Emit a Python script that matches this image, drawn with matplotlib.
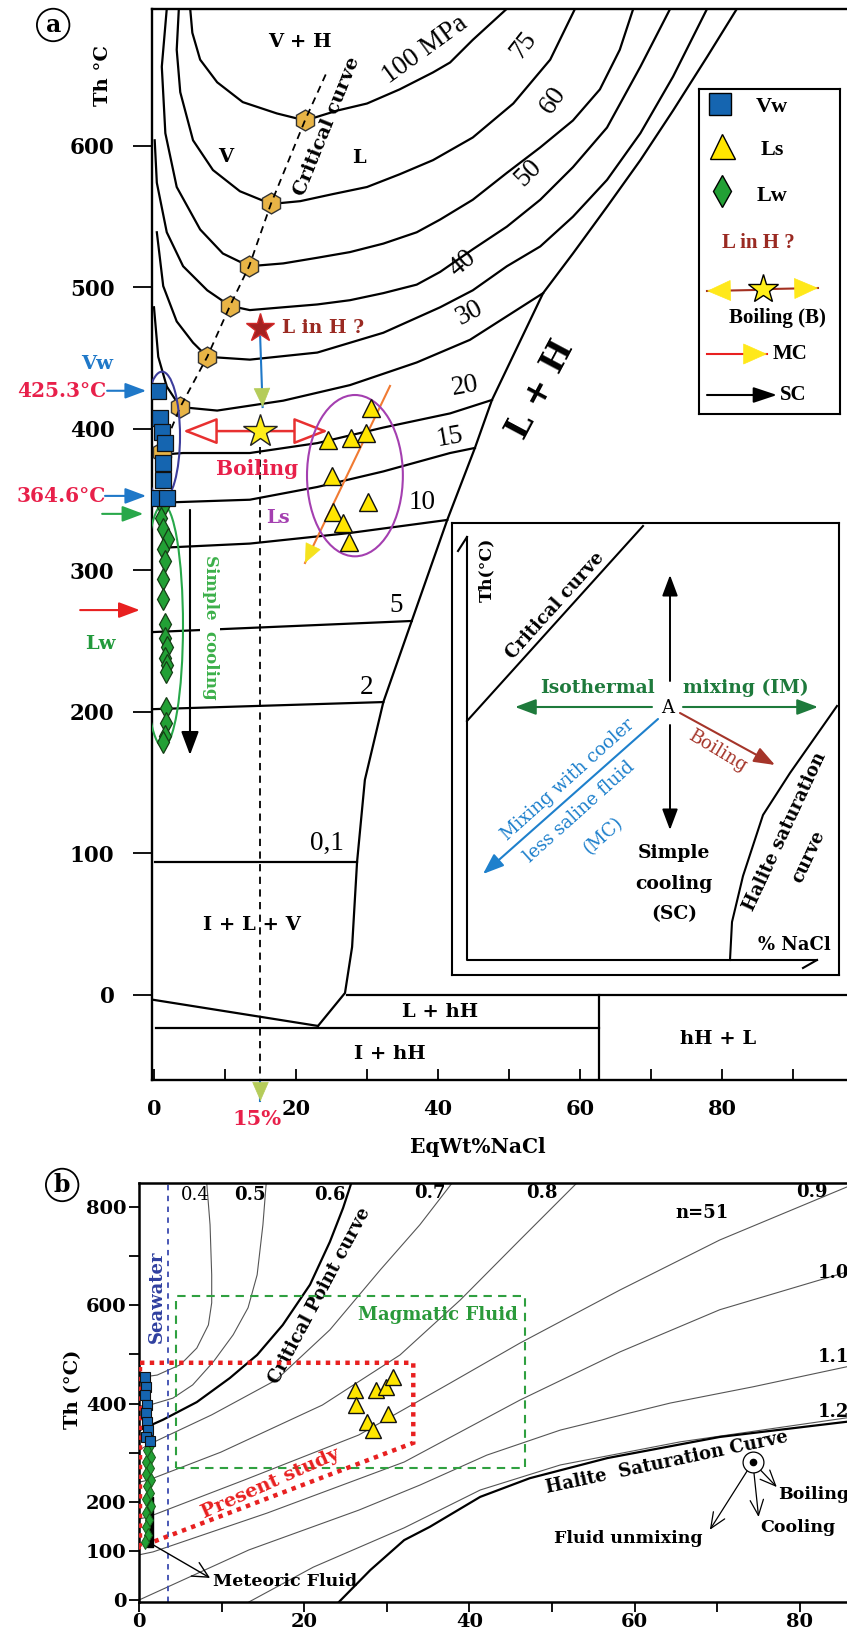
import numpy as np
import matplotlib.pyplot as plt
from matplotlib.patches import Ellipse, Polygon, Rectangle

plt.rcParams['font.family'] = 'DejaVu Serif'
TIMES = 'Liberation Serif'

RED = '#e8204a'
BLUE = '#1f78c8'
VW_C = '#1565b0'
LS_C = '#ffe600'
LW_C = '#22a035'
HEX_C = '#e8b446'

# ---------------- panel (a): isobars, x = wt% NaCl, y = Th (degC)
p100_x = [5.1, 5.4, 6.5, 8.9, 12.5, 17.3, 21.3, 25.8, 30.0, 34.6, 39.3, 41.7, 44.9, 49.7]
p100_t = [697, 680, 661, 645, 631, 623, 618, 625, 630, 640, 652, 659, 675, 697]
p75_x = [3.5, 3.2, 3.7, 5.5, 8.3, 12.1, 16.5, 20.6, 25.2, 30.0, 34.6, 39.3, 44.9, 50.6, 55.8, 59.3]
p75_t = [697, 668, 638, 604, 583, 568, 559, 561, 566, 571, 580, 590, 606, 630, 661, 697]
p60_x = [1.8, 1.1, 1.6, 3.2, 6.5, 9.7, 13.4, 18.2, 23.0, 27.6, 32.3, 37.0, 40.3, 44.9, 49.7,
         54.4, 59.0, 62.8, 65.6, 67.5]
p60_t = [697, 656, 609, 571, 541, 524, 515, 517, 521, 525, 531, 539, 548, 562, 581, 599, 618,
         640, 668, 697]
p50_x = [0.1, 0.4, 1.8, 4.1, 7.5, 10.7, 13.5, 18.2, 23.0, 27.6, 32.3, 37.0, 40.3, 44.9, 49.7,
         54.4, 59.0, 63.8, 68.5, 72.7]
p50_t = [604, 574, 539, 515, 498, 487, 484, 486, 488, 491, 496, 502, 511, 527, 543, 562, 585,
         613, 656, 697]
p40_x = [0.4, 1.3, 3.2, 5.5, 7.5, 13.5, 23.0, 32.3, 40.3, 44.9, 49.7, 54.4, 59.0, 63.8, 68.5,
         73.1, 77.9]
p40_t = [539, 501, 476, 461, 451, 449, 454, 468, 486, 498, 515, 529, 550, 576, 609, 649, 697]
p30_x = [0.0, 0.6, 1.8, 3.7, 8.9, 18.2, 27.6, 37.0, 44.5, 54.8]
p30_t = [486, 451, 430, 415.5, 413, 420, 431, 447, 463, 496]
p20_x = [1.5, 4.1, 13.5, 23.0, 32.3, 41.7, 47.6]
p20_t = [382, 383, 383, 390, 401, 411, 420.5]
p15_x = [1.5, 13.5, 23.0, 32.3, 41.7, 45.2]
p15_t = [348, 350, 359, 370, 383, 386.6]
p10_x = [0.9, 13.5, 27.6, 41.3]
p10_t = [316, 319, 326.5, 335.7]
p5_x = [0.0, 36.3]
p5_t = [256.5, 264.3]
p2_x = [0.0, 32.3]
p2_t = [202, 207]
p01_x = [0.1, 28.6]
p01_t = [94, 94]

# halite liquidus (L + H) and low temperature boundaries
lh_x = [23.1, 26.9, 27.9, 28.6, 29.7, 32.3, 36.3, 41.3, 45.2, 47.6, 54.8, 59.0, 63.8, 68.5,
        73.1, 77.9, 82.1]
lh_t = [-21.9, 1.4, 33.9, 94, 152, 207, 264.3, 335.7, 386.6, 420.5, 496, 524, 557, 590, 625,
        663, 697]
ice_x = [0.0, 23.1]
ice_t = [-3.5, -21.9]
eut_x = [0.3, 62.7]
eut_t = [-23.3, -23.3]
zero_x = [27.2, 97.6]
zero_t = [0, 0]
hh_x = [62.7, 62.7]
hh_t = [0, -61]

# critical points of the isobars
crit_x = [1.1, 3.7, 7.5, 10.7, 13.4, 16.5, 21.3]
crit_t = [384, 415.5, 451, 487, 515, 559.5, 618.5]
critline_x = [1.1, 3.7, 7.5, 10.7, 13.4, 16.5, 21.3, 24.5]
critline_t = [384, 415.5, 451, 487, 515, 559.5, 618.5, 654]

# fluid inclusions (a)
vw_a_x = [0.6, 0.85, 1.1, 1.55, 1.3, 1.3, 0.4, 1.8]
vw_a_t = [427, 408, 398, 390, 376, 364, 351, 351]
lw_a_x = [1.3, 1.0, 1.3, 2.0, 1.3, 1.6, 1.3, 1.3, 1.6, 1.6, 1.8, 1.6, 1.8, 1.7, 1.7, 1.7, 1.6, 1.3]
lw_a_t = [345, 337, 329, 322, 315, 307, 294, 280, 262, 252, 246, 238, 233, 228, 203, 192, 183, 179]
ls_a_x = [30.6, 24.5, 27.8, 29.9, 25.0, 30.2, 25.2, 26.6, 27.5]
ls_a_t = [414.6, 392.2, 393.4, 397.0, 367.1, 348.6, 341.6, 333.3, 320.4]
boil_x, boil_t = 14.9, 398.5
linh_x, linh_t = 14.9, 471.4

# ---------------- panel (b): isochores (g/cm3)
d04_x = [8.2, 8.6, 8.8, 8.8, 8.4, 7.0, 5.0, 2.2, 0.5, 0.0]
d04_t = [849, 764, 662, 605, 560, 513, 479, 458, 454, 453]
d05_x = [15.4, 15.0, 14.3, 13.2, 11.4, 9.0, 6.5, 4.1, 1.3, 0.0]
d05_t = [849, 764, 662, 595, 540, 485, 438, 411, 397, 395]
crb_x = [25.7, 24.7, 23.1, 20.7, 17.4, 14.3, 11.0, 7.0, 2.9, 0.1]
crb_t = [849, 798, 729, 642, 560, 499, 452, 403, 367, 346]
d07_x = [0.0, 1.1, 8.8, 16.6, 23.1, 29.2, 34.0, 37.9]
d07_t = [305, 316, 377, 448, 550, 672, 764, 849]
d08_x = [0.0, 1.1, 9.9, 22.2, 31.6, 38.9, 46.1, 53.0]
d08_t = [240, 244, 301, 397, 499, 611, 733, 849]
d09_x = [0.0, 1.1, 12.7, 26.6, 37.7, 46.1, 58.2, 70.3, 85.7]
d09_t = [165, 169, 244, 336, 442, 523, 631, 733, 841]
d10_x = [0.0, 1.7, 15.5, 32.1, 46.1, 58.2, 70.3, 85.7]
d10_t = [92, 98, 177, 281, 407, 505, 591, 668]
d11_x = [0.0, 13.3, 26.6, 34.0, 42.1, 51.0, 64.3, 74.3, 85.7]
d11_t = [0, 102, 183, 234, 295, 346, 401, 434, 475]
d12_x = [13.3, 21.1, 32.1, 41.3, 51.0, 65.5, 85.7]
d12_t = [-4, 67, 147, 224, 275, 322, 371]
hs_x = [24.2, 28.0, 32.1, 35.2, 41.3, 47.3, 56.7, 70.3, 85.7]
hs_t = [-4, 61, 122, 149, 210, 248, 289, 332, 363]

vw_b_x = [0.73, 0.85, 0.73, 0.97, 0.85, 0.97, 1.09, 0.85, 1.33]
vw_b_t = [454, 434, 418, 397, 381, 363, 346, 332, 324]
lw_b_x = [1.5, 1.0, 1.4, 0.8, 1.3, 0.9, 1.5, 1.0, 1.3, 0.8, 1.4, 0.9, 1.2, 0.8, 1.1, 0.7]
lw_b_t = [318, 305, 292, 280, 268, 256, 244, 232, 218, 205, 192, 178, 163, 148, 133, 118]
ls_b_x = [26.2, 28.7, 29.9, 30.8, 26.3, 30.2, 27.6, 28.3]
ls_b_t = [428, 428, 434, 454, 397, 379, 362, 346]
met_x = [0.95, 1.7]
met_t = [108, 210]
seawater = 3.5
magma_x = [4.5, 46.7]
magma_t = [269, 619]
ps_x = [0.12, 33.2, 33.2, 1.33, 0.12]
ps_t = [483, 483, 320, 116, 108]


def arrow(a, x0, y0, x1, y1, c, hc=None, lw=1.4, ms=16, hw=0.3, hl=0.8, fc=None):
    """shaft in colour c, head in colour hc (or c)"""
    if hc is None:
        a.annotate('', xy=(x1, y1), xytext=(x0, y0), annotation_clip=False,
                   arrowprops=dict(arrowstyle=f'-|>,head_length={hl},head_width={hw}',
                                   ec=c, fc=fc or c, lw=lw, mutation_scale=ms,
                                   shrinkA=0, shrinkB=0))
    else:
        a.plot([x0, x1], [y0, y1], color=c, lw=lw, clip_on=False)
        xs, ys = x1 - 0.05 * (x1 - x0), y1 - 0.05 * (y1 - y0)
        a.annotate('', xy=(x1, y1), xytext=(xs, ys), annotation_clip=False,
                   arrowprops=dict(arrowstyle=f'-|>,head_length={hl},head_width={hw}',
                                   color=hc, lw=0.5, mutation_scale=ms,
                                   shrinkA=0, shrinkB=0))


fig = plt.figure(figsize=(8.47, 16.30), dpi=100)

# ======================= panel (a)
ax = fig.add_axes([152 / 847, 1 - 1080 / 1630, 695 / 847, 1071 / 1630])
ax.set_xlim(-0.28, 97.6)
ax.set_ylim(-60.1, 696.8)
ax.spines['right'].set_visible(False)
for s in ['left', 'top', 'bottom']:
    ax.spines[s].set_linewidth(1.7)
ax.set_xticks([0, 20, 40, 60, 80])
ax.set_xticks([10, 30, 50, 70, 90], minor=True)
ax.set_yticks([0, 100, 200, 300, 400, 500, 600])
ax.tick_params(axis='x', which='both', direction='in', length=8, width=1.3, pad=14,
               labelsize=15)
ax.tick_params(axis='y', direction='out', length=14, width=1.3, pad=13, labelsize=15.5)
plt.setp(ax.get_xticklabels() + ax.get_yticklabels(), fontweight='bold')

for xs, ts in [(p100_x, p100_t), (p75_x, p75_t), (p60_x, p60_t), (p50_x, p50_t),
               (p40_x, p40_t), (p30_x, p30_t), (p20_x, p20_t), (p15_x, p15_t),
               (p10_x, p10_t), (p5_x, p5_t), (p2_x, p2_t), (p01_x, p01_t),
               (lh_x, lh_t), (ice_x, ice_t), (eut_x, eut_t), (zero_x, zero_t),
               (hh_x, hh_t)]:
    ax.plot(xs, ts, color='black', lw=1.6, zorder=2, solid_joinstyle='round')

ax.plot(crit_x, crit_t, 'h', ms=15, mfc=HEX_C, mec='#333333', mew=1.0, ls='none', zorder=3)
ax.plot(critline_x, critline_t, color='black', ls=(0, (4, 3)), lw=1.3, zorder=4)
ax.text(24.4, 614, 'Critical curve', rotation=68, fontsize=14, fontweight='bold',
        ha='center', va='center', rotation_mode='anchor')

# 15 % line
ax.plot([15, 15], [387, -60.1], color='black', ls=(0, (4, 3)), lw=1.3, zorder=2)
arrow(ax, 15, -60.1, 15, -75, BLUE, hc='#b5cc5a', lw=1.5, ms=16, hw=0.35, hl=0.8)
ax.text(14.5, -88, '15%', color=RED, fontsize=15, fontweight='bold', ha='center',
        va='center', clip_on=False)
ax.text(45.6, -107.5, 'EqWt%NaCl', fontsize=14.5, fontweight='bold', ha='center',
        va='center', clip_on=False)

# region labels
for x, y, s in [(20.6, 673.5, 'V + H'), (10.1, 592, 'V'), (28.9, 591.5, 'L'),
                (13.8, 49.5, 'I + L + V'), (40.3, -12, 'L + hH'), (33.2, -41.7, 'I + hH'),
                (79.4, -31, 'hH + L')]:
    ax.text(x, y, s, fontsize=14, fontweight='bold', ha='center', va='center')
ax.text(54.4, 428, 'L + H', rotation=62, fontsize=24, fontweight='bold', ha='center',
        va='center', rotation_mode='anchor')

# isobar labels
for x, y, s, r in [(38.2, 668, '100 MPa', 36), (52.0, 671, '75', 52), (56.2, 632, '60', 55),
                   (52.7, 581, '50', 45), (43.5, 517, '40', 40), (44.5, 482, '30', 28),
                   (43.8, 430, '20', 10), (41.7, 394, '15', 10), (37.7, 348, '10', 0),
                   (34.1, 275, '5', 0), (30.0, 217, '2', 0), (24.4, 107, '0,1', 0)]:
    ax.text(x, y, s, rotation=r, fontsize=19.5, family=TIMES, ha='center', va='center',
            rotation_mode='anchor')

# inclusions
ax.add_patch(Ellipse((1.13, 395), 5.07, 91, fill=False, ec='#3d3d9c', lw=1.5, zorder=4))
ax.add_patch(Ellipse((1.27, 261), 5.63, 171, fill=False, ec='#28a84a', lw=1.5, zorder=4))
ax.add_patch(Ellipse((28.3, 367), 13.5, 114, fill=False, ec='#a43fb0', lw=1.5, zorder=4))
ax.plot(lw_a_x, lw_a_t, 'd', ms=11, mfc=LW_C, mec='#153d15', mew=0.9, ls='none', zorder=5)
ax.plot(vw_a_x, vw_a_t, 's', ms=11, mfc=VW_C, mec='#111111', mew=0.9, ls='none', zorder=6)
ax.plot(ls_a_x, ls_a_t, '^', ms=12.5, mfc=LS_C, mec='#111111', mew=1.0, ls='none', zorder=6)

# MC trend through Ls
arrow(ax, 33.24, 430.4, 21.27, 305.3, '#f07a32', hc='#f5e21e', lw=1.5, ms=16, hw=0.35)
# boiling
arrow(ax, boil_x - 1.0, boil_t, 4.1, boil_t, '#e83030', lw=1.8, ms=24, hw=0.35, hl=0.9,
      fc='white')
arrow(ax, boil_x + 1.0, boil_t, 24.5, boil_t, '#e83030', lw=1.8, ms=24, hw=0.35, hl=0.9,
      fc='white')
ax.plot(boil_x, boil_t, '*', ms=25, mfc='#ffee1a', mec='#222222', mew=1.0, zorder=7)
ax.text(14.5, 372, 'Boiling', color=RED, fontsize=14.5, fontweight='bold', ha='center',
        va='center', zorder=7)
ax.text(17.5, 337, 'Ls', color='#a43fb0', fontsize=13.5, fontweight='bold', ha='center',
        va='center')
# L in H ?
arrow(ax, linh_x + 0.05, linh_t - 6, 15.3, 415.5, BLUE, hc='#b5cc5a', lw=1.5, ms=16,
      hw=0.35, hl=0.8)
ax.plot(linh_x, linh_t, '*', ms=21, mfc='#a42222', mec='#d02828', mew=1.0, zorder=7)
ax.text(18.0, 471.4, 'L in H ?', color='#9a2a22', fontsize=13.5, fontweight='bold',
        ha='left', va='center')
# simple cooling
arrow(ax, 5.07, 342.8, 5.07, 169.6, 'black', lw=1.5, ms=18, hw=0.3, hl=0.8)
ax.text(7.9, 260, 'Simple  cooling', rotation=270, color='#3cb04a', fontsize=12,
        fontweight='bold', ha='center', va='center',
        bbox=dict(fc='white', ec='none', pad=1.0), zorder=3)

# annotations to the left of the axis
ax.text(-8.0, 446, 'Vw', color=BLUE, fontsize=14, fontweight='bold', ha='center',
        va='center', clip_on=False)
ax.text(-13.0, 427, '425.3°C', color=RED, fontsize=14.5, fontweight='bold', ha='center',
        va='center', clip_on=False)
arrow(ax, -6.6, 427, -1.1, 427, BLUE, lw=1.5, ms=16, hw=0.3)
ax.text(-13.1, 352.7, '364.6°C', color=RED, fontsize=14.5, fontweight='bold', ha='center',
        va='center', clip_on=False)
arrow(ax, -6.9, 352.7, -1.1, 352.7, BLUE, lw=1.5, ms=16, hw=0.3)
arrow(ax, -7.3, 340, -1.5, 340, '#28a84a', lw=1.5, ms=16, hw=0.3)
arrow(ax, -10.4, 272, -2.0, 272, '#e82020', lw=1.5, ms=16, hw=0.3)
ax.text(-7.6, 248, 'Lw', color='#229a3c', fontsize=14, fontweight='bold', ha='center',
        va='center', clip_on=False)
ax.text(-7.2, 650, 'Th °C', rotation=90, fontsize=14, fontweight='bold', ha='center',
        va='center', clip_on=False)
ax.text(-14.2, 685.5, 'a', fontsize=17, fontweight='bold', ha='center', va='center',
        clip_on=False,
        bbox=dict(boxstyle='circle,pad=0.18', fc='white', ec='black', lw=1.3))

# ---- legend box (a)
lg = fig.add_axes([699 / 847, 1 - 414 / 1630, 141 / 847, 325 / 1630])
lg.set_xlim(0, 141)
lg.set_ylim(325, 0)
lg.set_xticks([])
lg.set_yticks([])
for s in lg.spines.values():
    s.set_linewidth(1.5)
lg.plot(21, 15, 's', ms=16, mfc=VW_C, mec='black', mew=1.0)
lg.plot(23, 57, '^', ms=18, mfc=LS_C, mec='black', mew=1.0)
lg.plot(23, 102, 'd', ms=16, mfc=LW_C, mec='black', mew=1.0)
for y, s in [(18, 'Vw'), (61, 'Ls'), (107, 'Lw')]:
    lg.text(73, y, s, fontsize=16, family=TIMES, fontweight='bold', ha='center', va='center')
lg.text(59, 154, 'L in H ?', color='#9a2a22', fontsize=15, family=TIMES, fontweight='bold',
        ha='center', va='center')
arrow(lg, 55, 201, 8, 202, '#a33020', hc='#ffe81a', lw=1.5, ms=18, hw=0.4, hl=0.9)
arrow(lg, 72, 200, 119, 199, '#a33020', hc='#ffe81a', lw=1.5, ms=18, hw=0.4, hl=0.9)
lg.plot(64, 200, '*', ms=22, mfc='#ffee1a', mec='black', mew=1.0)
lg.text(78, 229, 'Boiling (B)', fontsize=15, family=TIMES, fontweight='bold', ha='center',
        va='center')
arrow(lg, 8, 265, 68, 265, '#e82020', hc='#ffe81a', lw=1.5, ms=18, hw=0.4, hl=0.9)
lg.text(74, 265, 'MC', fontsize=15, family=TIMES, fontweight='bold', ha='left', va='center')
arrow(lg, 8, 306, 78, 306, 'black', lw=1.5, ms=16, hw=0.3, hl=0.9)
lg.text(81, 306, 'SC', fontsize=15, family=TIMES, fontweight='bold', ha='left', va='center')

# ---- schematic inset (a)
ins = fig.add_axes([452 / 847, 1 - 975 / 1630, 387 / 847, 452 / 1630])
ins.set_xlim(0, 387)
ins.set_ylim(452, 0)
ins.set_xticks([])
ins.set_yticks([])
for s in ins.spines.values():
    s.set_linewidth(1.5)
ins.plot([15, 15, 365], [14, 437, 437], color='black', lw=1.5)
ins.plot([6, 15], [28, 14], color='black', lw=1.5)
ins.plot([351, 365], [445, 437], color='black', lw=1.5)
ins.text(35, 47, 'Th(°C)', rotation=90, fontsize=12.5, fontweight='bold', ha='center',
         va='center')
ins.plot([15, 191], [198, 3], color='black', lw=1.5)
ins.text(103, 83, 'Critical curve', rotation=48, fontsize=13, fontweight='bold',
         ha='center', va='center', rotation_mode='anchor')
ins.text(216, 185, 'A', fontsize=13, ha='center', va='center')
arrow(ins, 218, 158, 218, 52, 'black', lw=1.4, ms=16, hw=0.3)
arrow(ins, 218, 202, 218, 307, 'black', lw=1.4, ms=16, hw=0.3)
arrow(ins, 200, 184, 63, 184, '#1e7a3c', lw=1.5, ms=16, hw=0.3)
arrow(ins, 231, 184, 366, 184, '#1e7a3c', lw=1.5, ms=16, hw=0.3)
ins.text(145, 165, 'Isothermal', color='#1e7a3c', fontsize=13.5, fontweight='bold',
         ha='center', va='center')
ins.text(294, 165, 'mixing (IM)', color='#1e7a3c', fontsize=13.5, fontweight='bold',
         ha='center', va='center')
arrow(ins, 228, 190, 323, 242, '#a5352a', lw=1.5, ms=16, hw=0.3)
ins.text(265, 228, 'Boiling', rotation=-31, color='#a5352a', fontsize=13, ha='center',
         va='center', rotation_mode='anchor')
arrow(ins, 206, 196, 31, 351, '#1e80cc', lw=1.5, ms=16, hw=0.3)
for x, y, s in [(116, 257, 'Mixing with cooler'), (127, 289, 'less saline fluid'),
                (151, 313, '(MC)')]:
    ins.text(x, y, s, rotation=42, color='#1e80cc', fontsize=13, ha='center', va='center',
             rotation_mode='anchor')
for y, s in [(330, 'Simple'), (361, 'cooling'), (391, '(SC)')]:
    ins.text(222, y, s, fontsize=13.5, fontweight='bold', ha='center', va='center')
ins.plot([278, 280, 291, 311, 338, 385], [437, 399, 353, 292, 250, 183], color='black', lw=1.5)
ins.text(333, 309, 'Halite saturation', rotation=65, fontsize=13, fontweight='bold',
         ha='center', va='center', rotation_mode='anchor')
ins.text(356, 334, 'curve', rotation=65, fontsize=13, fontweight='bold', ha='center',
         va='center', rotation_mode='anchor')
ins.text(342, 422, '% NaCl', fontsize=13, fontweight='bold', ha='center', va='center')

# ======================= panel (b)
bx = fig.add_axes([139 / 847, 1 - 1602 / 1630, 708 / 847, 419 / 1630])
bx.set_xlim(0, 85.7)
bx.set_ylim(-4, 849)
bx.spines['right'].set_visible(False)
for s in ['left', 'top', 'bottom']:
    bx.spines[s].set_linewidth(1.8)
bx.set_xticks([0, 20, 40, 60, 80])
bx.set_xticks([10, 30, 50, 70], minor=True)
bx.set_yticks([0, 100, 200, 400, 600, 800])
bx.set_yticks([300, 500, 700], minor=True)
bx.tick_params(axis='both', which='both', direction='out', length=7, width=1.3)
bx.tick_params(axis='x', pad=1, labelsize=14)
bx.tick_params(axis='y', pad=2, labelsize=14)
plt.setp(bx.get_xticklabels() + bx.get_yticklabels(), fontweight='bold')

for xs, ts in [(d04_x, d04_t), (d05_x, d05_t), (d07_x, d07_t), (d08_x, d08_t),
               (d09_x, d09_t), (d10_x, d10_t), (d11_x, d11_t), (d12_x, d12_t)]:
    bx.plot(xs, ts, color='#555555', lw=0.8, zorder=2)
bx.plot(crb_x, crb_t, color='black', lw=1.6, zorder=2)
bx.plot(hs_x, hs_t, color='black', lw=1.6, zorder=2)

for x, y, s, w in [(6.8, 825, '0.4', 'normal'), (13.4, 825, '0.5', 'bold'),
                   (23.1, 825, '0.6', 'bold'), (35.2, 829, '0.7', 'bold'),
                   (48.8, 829, '0.8', 'bold'), (81.5, 831, '0.9', 'bold')]:
    bx.text(x, y, s, fontsize=13, fontweight=w, ha='center', va='center')
for y, s in [(666, '1.0'), (495, '1.1'), (383, '1.2')]:
    bx.text(82.2, y, s, fontsize=13, fontweight='bold', ha='left', va='center', clip_on=False)

bx.text(21.9, 620, 'Critical Point curve', rotation=62, fontsize=13, fontweight='bold',
        ha='center', va='center', rotation_mode='anchor')
bx.text(63.9, 281, 'Halite  Saturation Curve', rotation=12, fontsize=13, fontweight='bold',
        ha='center', va='center', rotation_mode='anchor')

bx.axvline(seawater, color='#3b4bb0', ls=(0, (3, 3)), lw=1.3, zorder=2)
bx.text(2.2, 617, 'Seawater', rotation=90, color='#2f3f9f', fontsize=13, fontweight='bold',
        ha='center', va='center')
bx.add_patch(Rectangle((magma_x[0], magma_t[0]), magma_x[1] - magma_x[0],
                       magma_t[1] - magma_t[0], fill=False, ec='#2fa040', lw=1.5,
                       ls=(0, (4, 3)), zorder=3))
bx.text(36.2, 580, 'Magmatic Fluid', color='#2a9a3a', fontsize=13, fontweight='bold',
        ha='center', va='center')
bx.add_patch(Polygon(np.column_stack([ps_x, ps_t]), closed=True, fill=False, ec='#e82020',
                     lw=3.2, ls=(0, (1, 1.2)), zorder=4))
bx.text(15.9, 238, 'Present study', rotation=24, color='#e82020', fontsize=14,
        fontweight='bold', ha='center', va='center', rotation_mode='anchor')

bx.fill_betweenx(met_t, met_x[0], met_x[1], color='black', zorder=4)
bx.plot(lw_b_x, lw_b_t, 'd', ms=7.5, mfc=LW_C, mec='#1a5a1a', mew=0.7, ls='none', zorder=5)
bx.plot(vw_b_x, vw_b_t, 's', ms=7, mfc=VW_C, mec='#111111', mew=0.8, ls='none', zorder=6)
bx.plot(ls_b_x, ls_b_t, '^', ms=11, mfc=LS_C, mec='#111111', mew=1.0, ls='none', zorder=6)

bx.annotate('', xy=(8.6, 45), xytext=(1.33, 116),
            arrowprops=dict(arrowstyle='->,head_length=0.7,head_width=0.35', color='black',
                            lw=1.0, mutation_scale=16, shrinkA=0, shrinkB=0))
bx.text(9.0, 37, 'Meteoric Fluid', fontsize=12.5, fontweight='bold', ha='left', va='center')
bx.text(68.2, 788, 'n=51', fontsize=13, fontweight='bold', ha='center', va='center')

# process symbol
cx, cy = 74.3, 281
bx.plot(cx, cy, 'o', ms=15, mfc='white', mec='black', mew=0.9, zorder=5)
bx.plot(cx, cy, 'o', ms=4.5, color='black', zorder=6)
for tx, ty in [(69.1, 143), (75.0, 169), (77.2, 230)]:
    bx.annotate('', xy=(tx, ty), xytext=(cx, cy),
                arrowprops=dict(arrowstyle='->,head_length=0.7,head_width=0.3',
                                color='black', lw=0.9, mutation_scale=16, shrinkA=6,
                                shrinkB=0))
bx.text(77.4, 214, 'Boiling', fontsize=12.5, fontweight='bold', ha='left', va='center',
        clip_on=False)
bx.text(79.7, 147, 'Cooling', fontsize=12.5, fontweight='bold', ha='center', va='center')
bx.text(59.2, 126, 'Fluid unmixing', fontsize=12.5, fontweight='bold', ha='center',
        va='center')

bx.text(-8.0, 428, 'Th (°C)', rotation=90, fontsize=14, fontweight='bold', ha='center',
        va='center', clip_on=False)
bx.text(-9.3, 845, 'b', fontsize=17, fontweight='bold', ha='center', va='center',
        clip_on=False,
        bbox=dict(boxstyle='circle,pad=0.18', fc='white', ec='black', lw=1.3))

fig.savefig('out.png', dpi=100)
